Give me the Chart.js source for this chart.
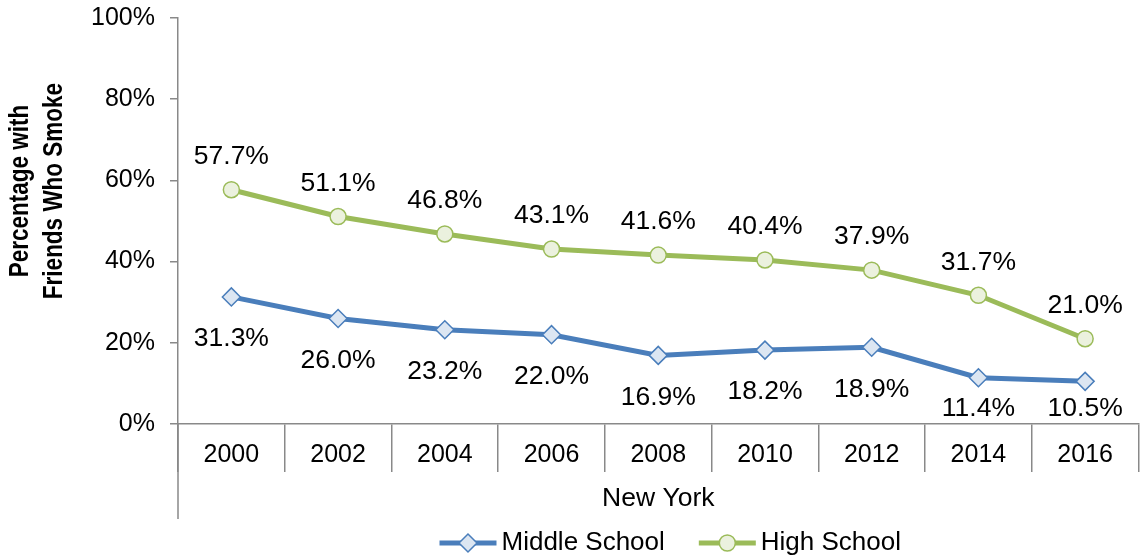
<!DOCTYPE html>
<html>
<head>
<meta charset="utf-8">
<script src="https://cdn.jsdelivr.net/npm/chart.js@4.4.1/dist/chart.umd.min.js"></script>
<style>
  html, body { margin: 0; padding: 0; background: #fff; overflow: hidden; }
  #wrap { width: 1149px; height: 560px; }
</style>
</head>
<body>
<div id="wrap"><canvas id="chart"></canvas></div>
<script>
// ---- data ----
const years = ['2000', '2002', '2004', '2006', '2008', '2010', '2012', '2014', '2016'];
const middleSchool = [31.3, 26.0, 23.2, 22.0, 16.9, 18.2, 18.9, 11.4, 10.5];
const highSchool = [57.7, 51.1, 46.8, 43.1, 41.6, 40.4, 37.9, 31.7, 21.0];
const seriesNames = ['Middle School', 'High School'];
const xTitle = 'New York';
const yTitle = ['Percentage with', 'Friends Who Smoke'];

const FONT = "'Liberation Sans', Arial, sans-serif";
const AXIS = '#898989';
const BLUE = '#4A7EBB';
const GREEN = '#9BBB59';

Chart.defaults.font.family = FONT;
Chart.defaults.color = '#000';

// percentage labels: high school above, middle school below (kept inside the plot)
const valueLabels = {
  id: 'valueLabels',
  afterDatasetsDraw(chart) {
    const ctx = chart.ctx;
    const area = chart.chartArea;
    ctx.save();
    ctx.font = '26.5px ' + FONT;
    ctx.fillStyle = '#000';
    ctx.textAlign = 'center';
    ctx.textBaseline = 'middle';
    chart.data.datasets.forEach((ds, i) => {
      const meta = chart.getDatasetMeta(i);
      meta.data.forEach((pt, j) => {
        const dy = ds.labelAbove ? -33 : 42;
        const y = Math.min(pt.y + dy, area.bottom - 15);
        ctx.fillText(ds.data[j].toFixed(1) + '%', pt.x, y);
      });
    });
    ctx.restore();
  }
};

// y title (two lines, rotated), axis extension line and legend
const decorations = {
  id: 'decorations',
  afterDraw(chart) {
    const ctx = chart.ctx;
    const area = chart.chartArea;
    const xs = chart.scales.x;

    ctx.save();
    ctx.strokeStyle = AXIS;
    ctx.lineWidth = 1.5;
    ctx.beginPath();
    ctx.moveTo(area.left, area.bottom);
    ctx.lineTo(area.left, xs.bottom);
    ctx.stroke();
    ctx.restore();

    // rotated title, glyphs widened a little like the original
    ctx.save();
    ctx.translate(0, 191);
    ctx.rotate(-Math.PI / 2);
    ctx.scale(1, 1.2);
    ctx.font = 'bold 22.5px ' + FONT;
    ctx.fillStyle = '#000';
    ctx.textAlign = 'center';
    ctx.textBaseline = 'alphabetic';
    ctx.fillText(yTitle[0], 0, 28 / 1.2);
    ctx.fillText(yTitle[1], 0, 62 / 1.2);
    ctx.restore();

    // legend
    ctx.save();
    ctx.font = '26px ' + FONT;
    ctx.textBaseline = 'middle';
    const lineLen = 57, gap = 5, itemGap = 34;
    const widths = chart.data.datasets.map(ds => ctx.measureText(ds.label).width);
    const total = widths.reduce((a, w) => a + lineLen + gap + w, 0) + itemGap * (widths.length - 1);
    let x = (xs.left + xs.right) / 2 + 12 - total / 2;
    const y = 543;
    chart.data.datasets.forEach((ds, i) => {
      ctx.strokeStyle = ds.borderColor;
      ctx.lineWidth = ds.borderWidth;
      ctx.beginPath();
      ctx.moveTo(x, y);
      ctx.lineTo(x + lineLen, y);
      ctx.stroke();
      ctx.fillStyle = ds.pointBackgroundColor;
      ctx.strokeStyle = ds.pointBorderColor;
      ctx.lineWidth = ds.pointBorderWidth;
      Chart.helpers.drawPoint(ctx, { pointStyle: ds.pointStyle, radius: ds.pointRadius, borderWidth: ds.pointBorderWidth, rotation: 0 }, x + lineLen / 2, y);
      ctx.fillStyle = '#000';
      ctx.textAlign = 'left';
      ctx.fillText(ds.label, x + lineLen + gap, y);
      x += lineLen + gap + widths[i] + itemGap;
    });
    ctx.restore();
  }
};

new Chart(document.getElementById('chart'), {
  type: 'line',
  data: {
    labels: years,
    datasets: [
      {
        label: seriesNames[0],
        data: middleSchool,
        borderColor: BLUE,
        borderWidth: 5,
        pointStyle: 'rectRot',
        pointRadius: 9,
        pointBackgroundColor: '#DCE6F2',
        pointBorderColor: BLUE,
        pointBorderWidth: 1.5,
        tension: 0,
        labelAbove: false
      },
      {
        label: seriesNames[1],
        data: highSchool,
        borderColor: GREEN,
        borderWidth: 5,
        pointStyle: 'circle',
        pointRadius: 8,
        pointBackgroundColor: '#EBF1DE',
        pointBorderColor: GREEN,
        pointBorderWidth: 1.5,
        tension: 0,
        labelAbove: true
      }
    ]
  },
  options: {
    responsive: true,
    maintainAspectRatio: false,
    animation: false,
    layout: { padding: { top: 18, right: 0, bottom: 41, left: 0 } },
    plugins: { legend: { display: false }, tooltip: { enabled: false } },
    scales: {
      x: {
        offset: true,
        grid: { offset: true, drawOnChartArea: false, drawTicks: true, tickLength: 48, color: AXIS, lineWidth: 1.5 },
        border: { color: AXIS, width: 1.5 },
        ticks: { font: { size: 25 }, color: '#000', padding: -32, maxRotation: 0, autoSkip: false },
        title: { display: true, text: xTitle, font: { size: 26.5 }, color: '#000', padding: { top: 0, bottom: 4 } },
        afterFit(scale) { scale.height = 95; }
      },
      y: {
        min: 0,
        max: 100,
        ticks: { stepSize: 20, font: { size: 25 }, color: '#000', padding: 15, callback: v => v + '%' },
        grid: { drawOnChartArea: false, drawTicks: true, tickLength: 8, color: AXIS, lineWidth: 1.5 },
        border: { color: AXIS, width: 1.5 },
        afterFit(scale) {
          scale.width = 178;
          scale.paddingTop = 0;
          scale.paddingBottom = 0;
        }
      }
    }
  },
  plugins: [valueLabels, decorations]
});
</script>
</body>
</html>
